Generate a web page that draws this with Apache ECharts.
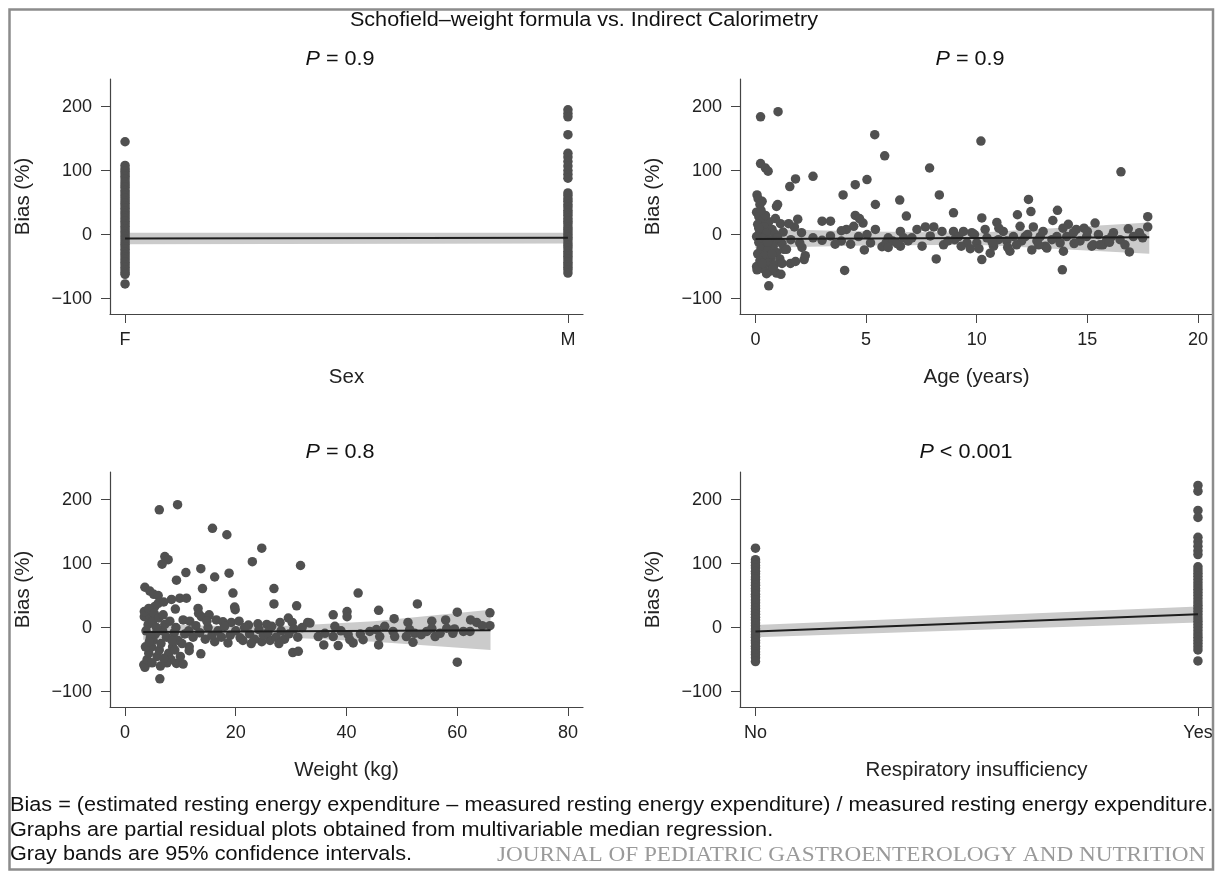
<!DOCTYPE html>
<html>
<head>
    <meta charset='utf-8'>
    <script src="https://cdn.jsdelivr.net/npm/echarts@6/dist/echarts.min.js"></script>
</head>
<body>
<style>
    html, body, #main {
        width: 100%;
        height: 100%;
        margin: 0;
        padding: 0;
        background: #fff;
    }
</style>
<div id="main"></div>
<script>
    // bias values (%)
    var sexF = [145, 108, 103, 99, 95, 91, 87, 82, 78, 74, 69, 65, 61, 57, 53, 49, 45, 41, 37, 33, 29, 25, 21, 17, 13, 9, 5, 1,
        -3, -7, -11, -15, -19, -23, -27, -31, -35, -39, -43, -47, -51, -55, -59, -62, -77];
    var sexM = [195, 189, 184, 156, 127, 121, 114, 107, 100, 94, 88, 65, 61, 56, 52, 47, 43, 38, 34, 30, 25, 21, 17, 12, 8, 4, 0,
        -4, -8, -13, -17, -21, -26, -30, -34, -38, -43, -47, -51, -55, -60];
    var respNo = [124, 106, 102, 97, 93, 88, 84, 79, 75, 70, 66, 61, 57, 52, 48, 43, 39, 34, 30, 25, 21, 16, 12, 7, 3,
        -2, -6, -11, -15, -20, -24, -29, -33, -38, -42, -47, -53];
    var respYes = [222, 213, 183, 172, 141, 134, 127, 120, 114, 95, 90, 85, 80, 75, 70, 65, 60, 55, 50, 45, 40, 35, 30, 25, 20,
        15, 10, 5, 0, -5, -10, -15, -20, -25, -30, -35, -52];

    // [age (years), bias (%)]
    var agePoints = [
        [0.23, 184], [1.02, 192], [0.23, 111], [0.45, 104], [0.57, 99],
        [0.07, 62], [0.12, 56], [0.3, 52], [0.2, 47], [0.95, 44], [1.0, 47],
        [0.05, 35], [0.15, 28], [0.35, 24], [0.6, 20], [0.1, 16], [0.4, 12], [0.75, 8], [0.2, 5], [0.5, 2], [0.9, 0],
        [1.13, 17], [1.25, 4], [0.05, -3], [0.3, -6], [0.65, -8], [1.05, -10], [0.15, -12], [0.45, -15], [0.8, -18],
        [1.2, -14], [0.25, -22], [0.55, -25], [0.95, -28], [1.28, -23], [0.1, -30], [0.4, -33], [0.7, -36], [1.1, -38],
        [0.2, -41], [0.6, -44], [0.85, -47], [0.05, -50], [0.35, -53], [0.07, -55], [0.65, -57], [0.95, -60], [1.15, -62],
        [0.5, -61], [0.6, -80], [0.3, -45], [0.75, -30], [1.0, -5], [0.45, 30], [0.25, 38], [0.8, -52], [0.15, 10],
        [0.55, -12], [1.2, -45], [0.9, 25],
        [1.81, 87], [1.55, 75], [2.6, 91], [4.51, 78], [5.04, 86], [3.96, 62], [5.42, 47], [6.52, 54], [6.82, 29],
        [5.39, 156], [5.84, 123], [1.91, 24], [1.76, 12], [2.08, 3], [1.5, 17], [3.01, 21], [3.39, 21], [4.51, 30],
        [4.86, 18], [4.44, 13], [4.11, 8], [3.88, 6], [5.42, 8], [3.39, -2], [3.01, -9], [3.88, -10], [4.66, -3],
        [5.04, 0], [5.2, -13], [4.92, -24], [5.72, -19], [6.55, 5], [6.55, -18], [6.0, -5], [1.58, -45], [1.81, -42],
        [2.2, -39], [2.25, -33], [4.03, -56], [1.4, -23], [1.6, -8], [2.1, -20], [4.7, 25], [4.3, -15], [5.9, -13],
        [6.2, -10], [6.4, -14], [6.7, -5], [6.9, -10], [6.0, -20], [3.6, -15], [2.6, -5], [2.0, -13],
        [10.19, 146], [16.52, 98], [7.87, 104], [8.31, 62], [8.95, 34], [12.34, 55], [12.45, 36], [13.65, 38],
        [13.44, 22], [17.73, 28], [17.73, 12], [8.17, -38], [10.23, -39], [13.87, -55], [16.9, -27], [10.23, 26],
        [10.91, 19], [11.84, 31], [8.06, 12], [8.43, 5], [8.5, -16], [11.5, -26], [12.49, -24], [13.17, -21],
        [14.14, 16], [15.35, 18], [14.85, 10], [16.18, 3], [16.85, 9], [17.35, 3], [15.2, -18], [15.7, -16],
        [7.07, -5], [7.53, -18], [7.68, 12], [8.95, 5], [9.18, -3], [9.4, 5], [9.56, -13], [9.71, -22], [9.78, 3],
        [10.0, -13], [10.38, 8], [10.46, -5], [10.61, -29], [10.76, -18], [10.98, -8], [11.2, 5], [11.36, -10],
        [11.66, -3], [11.96, 13], [12.03, -10], [12.19, -3], [12.56, 12], [12.72, -10], [12.87, -3], [13.1, -18],
        [13.62, -3], [13.77, -13], [13.92, -26], [14.07, -3], [14.37, 3], [14.67, -10], [14.97, -3], [15.27, -16],
        [15.57, -16], [15.88, -8], [16.1, -3], [16.48, -8], [17.08, -3], [9.0, -8], [9.9, 0], [10.7, -12], [11.0, 10],
        [11.8, -16], [12.3, 0], [13.0, 5], [13.4, -8], [14.4, -14], [15.0, 5], [15.5, 0], [16.0, -12], [16.7, -16],
        [17.5, -5], [8.7, -10], [9.3, -18], [10.1, -22], [11.4, -20], [12.8, -16], [14.5, 8], [13.9, 10], [7.3, 8],
        [7.9, -2]
    ];

    // [weight (kg), bias (%)]
    var weightPoints = [
        [6.2, 184], [9.5, 192], [15.8, 155], [18.4, 145], [24.7, 124], [23.0, 103], [31.7, 97], [7.2, 111], [7.8, 106],
        [6.7, 99], [11.0, 86], [13.7, 92], [16.2, 79], [18.8, 85], [9.3, 74], [14.0, 61], [19.5, 54], [26.9, 61],
        [26.9, 37], [31.0, 34], [3.6, 63], [4.5, 57], [5.2, 52], [6.0, 50], [9.9, 46], [11.1, 46], [8.4, 44],
        [19.8, 32], [19.9, 28], [13.2, 30], [13.3, 22], [9.1, 29], [5.4, 33], [6.0, 38], [7.0, 40], [3.5, 17],
        [4.6, 17], [13.8, 17], [15.2, 20], [16.5, 12], [10.5, 12], [11.7, 10], [17.7, 9], [19.2, 8], [20.6, 10],
        [22.3, 4], [24.0, 6], [25.6, 5], [28.0, 8], [29.5, 15], [30.2, 8],
        [13.7, -41], [6.3, -80], [3.4, -58], [9.3, -56], [10.5, -57], [11.6, -36], [11.6, -30], [30.3, -39],
        [31.3, -37], [16.2, -22], [18.6, -24], [21.3, -20], [24.7, -22], [26.2, -20],
        [3.6, -62], [4.0, -50], [4.3, -40], [4.8, -30], [5.1, -20], [5.5, -10], [3.8, -5], [4.2, 5], [4.6, -15],
        [5.0, 10], [5.8, -45], [6.2, -35], [6.5, -25], [6.8, -5], [7.2, 5], [7.5, -15], [7.9, -40], [8.3, -50],
        [8.6, -30], [8.9, -8], [9.2, 0], [9.6, -20], [10.0, -45], [3.5, 25], [4.3, 30], [5.3, 22], [6.1, 15],
        [6.9, 20], [7.6, -55], [8.1, 10], [5.7, 0], [4.9, -55], [6.4, -60], [7.0, -48], [3.7, -30], [9.0, -35],
        [10.3, -25], [10.8, -10], [8.5, -20], [4.4, -22],
        [11.5, -5], [12.3, -15], [12.8, 3], [13.5, -8], [14.5, -18], [15.0, 0], [15.7, -12], [16.8, -5], [17.4, -15],
        [18.0, 2], [19.0, -12], [20.0, -5], [20.8, -16], [21.6, 0], [22.5, -10], [23.4, -18], [24.2, -3], [25.0, -12],
        [25.8, -8], [26.5, 2], [27.3, -15], [28.2, -5], [28.8, -18], [29.6, -10], [30.5, -2], [31.2, -15], [32.0, 0],
        [33.0, 8], [14.8, 10], [22.8, -25], [27.8, -25],
        [42.1, 54], [52.8, 37], [45.8, 27], [40.1, 25], [40.1, 17], [37.6, 20], [60, 24], [65.9, 23], [65.9, 3],
        [60, -54], [35.9, -27], [38.5, -28], [45.8, -27], [52, -23], [48.6, 14], [51.1, 8], [55.4, 10], [57.9, 12],
        [62.4, 12], [63.5, 8], [33.4, 7], [34.9, -14], [36.1, -9], [37.6, -14], [37.9, 2], [40.3, -11], [40.6, -19],
        [41.2, -24], [43, -19], [44.2, -6], [45.4, -3], [46, -14], [46.9, 2], [48.4, -6], [48.7, -14], [50.8, -14],
        [51.4, -3], [52.3, -9], [53.5, -11], [54.5, -6], [55.4, -1], [56, -14], [56.9, -9], [58.1, -1], [59.2, -9],
        [61.1, -6], [62.3, -6], [64.5, 3], [59.5, -2], [42.5, -10], [39, -5]
    ];

    // fitted median line ends and 95% bands: [x, lower, upper]
    var sexLine = [[0, -6], [1, -5]];
    var sexBand = [[0, -15, 3], [1, -14, 3]];
    var ageLine = [[0, -7], [17.8, -4]];
    var ageBand = [[0, -21, 9], [5, -17, 5], [10, -16, 3], [17.8, -30, 19]];
    var weightLine = [[3.3, -7], [66, -4]];
    var weightBand = [[3.3, -19, 6], [15, -15, 3], [30, -16, 3], [45, -22, 10], [66, -35, 28]];
    var respLine = [[0, -6], [1, 21]];
    var respBand = [[0, -15, 4], [1, 8, 33]];

    var sexLabels = ['F', 'M'];
    var respLabels = ['No', 'Yes'];
    var biasTicks = [-100, 0, 100, 200];
    var panelTitles = ['0.9', '0.9', '0.8', '< 0.001'];

    var chart = echarts.init(document.getElementById('main'));
    var font = 'Liberation Sans';
    var dotColor = '#505050';

    function strip(values, x) {
        return values.map(function (v) { return [x, v]; });
    }

    function bandRender(params, api) {
        if (params.dataIndexInside !== 0) {
            return;
        }
        var upper = [], lower = [];
        for (var i = 0; i < params.dataInsideLength; i++) {
            upper.push(api.coord([api.value(0, i), api.value(2, i)]));
            lower.unshift(api.coord([api.value(0, i), api.value(1, i)]));
        }
        return {
            type: 'polygon',
            shape: {points: upper.concat(lower)},
            style: {fill: '#cbcbcb'}
        };
    }

    function xAxis(i, min, max, name, ticks, fmt) {
        return {
            type: 'value', gridIndex: i, min: min, max: max,
            name: name, nameLocation: 'middle', nameGap: 53,
            nameTextStyle: {fontFamily: font, fontSize: 20.5, color: '#222'},
            axisLine: {onZero: false, lineStyle: {color: '#444', width: 1.2}},
            axisTick: {length: 9, customValues: ticks, lineStyle: {color: '#444'}},
            axisLabel: {customValues: ticks, formatter: fmt, margin: 17,
                fontFamily: font, fontSize: 18, color: '#222'},
            splitLine: {show: false}
        };
    }

    function yAxis(i) {
        return {
            type: 'value', gridIndex: i, min: -124, max: 243,
            name: 'Bias (%)', nameLocation: 'middle', nameGap: 76,
            nameTextStyle: {fontFamily: font, fontSize: 20.5, color: '#222'},
            axisLine: {show: true, onZero: false, lineStyle: {color: '#444', width: 1.2}},
            axisTick: {show: true, length: 9, customValues: biasTicks, lineStyle: {color: '#444'}},
            axisLabel: {customValues: biasTicks, margin: 18, fontFamily: font, fontSize: 18, color: '#222',
                formatter: function (v) { return v < 0 ? '\u2212' + (-v) : String(v); }},
            splitLine: {show: false}
        };
    }

    function panelSeries(i, points, band, line) {
        return [{
            type: 'custom', xAxisIndex: i, yAxisIndex: i, renderItem: bandRender,
            data: band, z: 1, silent: true
        }, {
            type: 'scatter', xAxisIndex: i, yAxisIndex: i, data: points,
            symbolSize: 9.5, itemStyle: {color: dotColor, opacity: 1}, z: 2
        }, {
            type: 'line', xAxisIndex: i, yAxisIndex: i, data: line, showSymbol: false,
            lineStyle: {color: '#1e1e1e', width: 2}, z: 3
        }];
    }

    var titlePos = [[340, 59], [970, 59], [340, 452], [966, 452]];
    var graphics = [{
        type: 'text', x: 584, y: 20, scaleX: 1.08,
        style: {text: 'Schofield\u2013weight formula vs. Indirect Calorimetry', font: '20px ' + font,
            fill: '#111', align: 'center', verticalAlign: 'middle'}
    }];
    titlePos.forEach(function (p, k) {
        graphics.push({
            type: 'text', x: p[0], y: p[1], scaleX: 1.08,
            style: {
                text: '{i|P} ' + (panelTitles[k].charAt(0) === '<' ? '' : '= ') + panelTitles[k],
                font: '20px ' + font, fill: '#111', align: 'center', verticalAlign: 'middle',
                rich: {i: {fontStyle: 'italic', fontFamily: font, fontSize: 20}}
            }
        });
    });
    var notes = [
        'Bias = (estimated resting energy expenditure \u2013 measured resting energy expenditure) / measured resting energy expenditure.',
        'Graphs are partial residual plots obtained from multivariable median regression.',
        'Gray bands are 95% confidence intervals.'
    ];
    notes.forEach(function (t, k) {
        graphics.push({
            type: 'text', x: 10, y: 806 + k * 24.5, scaleX: 1.1,
            style: {text: t, font: '19.7px ' + font, fill: '#111', verticalAlign: 'middle'}
        });
    });
    graphics.push({
        type: 'text', x: 497, y: 856, scaleX: 1.16,
        style: {text: 'JOURNAL OF PEDIATRIC GASTROENTEROLOGY AND NUTRITION', font: '20px Liberation Serif',
            fill: '#9a9a9a', verticalAlign: 'middle'}
    });
    graphics.push({
        type: 'rect', z: 100,
        shape: {x: 9.5, y: 9.5, width: 1203.5, height: 860},
        style: {fill: 'none', stroke: '#8c8c8c', lineWidth: 2.5}
    });

    var option = {
        animation: false,
        backgroundColor: '#fff',
        grid: [
            {left: 110, top: 79, width: 473, height: 235},
            {left: 740, top: 79, width: 473, height: 235},
            {left: 110, top: 472, width: 473, height: 235},
            {left: 740, top: 472, width: 473, height: 235}
        ],
        xAxis: [
            xAxis(0, -0.034, 1.034, 'Sex', [0, 1], function (v) { return sexLabels[Math.round(v)]; }),
            xAxis(1, -0.7, 20.68, 'Age (years)', [0, 5, 10, 15, 20]),
            xAxis(2, -2.7, 82.7, 'Weight (kg)', [0, 20, 40, 60, 80]),
            xAxis(3, -0.035, 1.034, 'Respiratory insufficiency', [0, 1], function (v) { return respLabels[Math.round(v)]; })
        ],
        yAxis: [yAxis(0), yAxis(1), yAxis(2), yAxis(3)],
        series: [].concat(
            panelSeries(0, strip(sexF, 0).concat(strip(sexM, 1)), sexBand, sexLine),
            panelSeries(1, agePoints, ageBand, ageLine),
            panelSeries(2, weightPoints, weightBand, weightLine),
            panelSeries(3, strip(respNo, 0).concat(strip(respYes, 1)), respBand, respLine)
        ),
        graphic: graphics
    };

    chart.setOption(option);
</script>
</body>
</html>
